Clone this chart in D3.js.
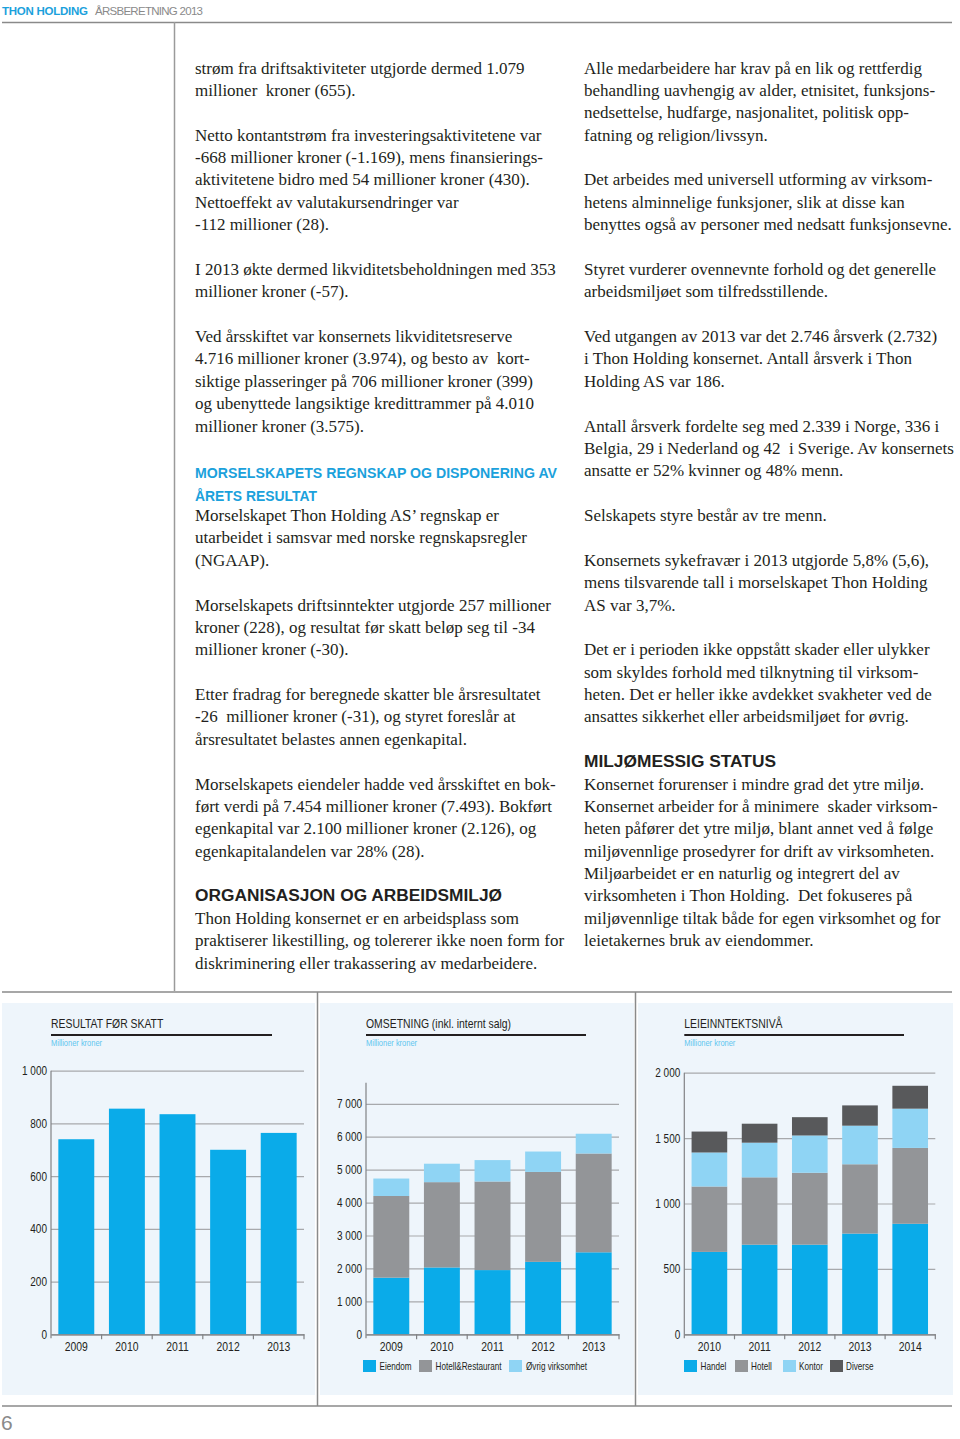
<!DOCTYPE html>
<html><head><meta charset="utf-8">
<script src="https://cdn.jsdelivr.net/npm/d3@7"></script>
<style>
body{margin:0;background:#fff}
svg{display:block}
.body{font-family:"Liberation Serif","Times New Roman",serif;font-size:17px;fill:#231f20;white-space:pre}
.hb{font-family:"Liberation Sans",Arial,sans-serif;font-weight:bold;font-size:14px;fill:#1ba1dc}
.hk{font-family:"Liberation Sans",Arial,sans-serif;font-weight:bold;font-size:16px;fill:#231f20}
.ch{font-family:"Liberation Sans Narrow","Liberation Sans",Arial,sans-serif}
</style>
</head><body><svg id="c" width="960" height="1439"></svg>
<script>
// ---------- DATA ----------
const years1 = ["2009","2010","2011","2012","2013"];
const resultatForSkatt = [740, 856, 835, 700, 764];
const ticks1 = [0, 200, 400, 600, 800, 1000];

const years2 = ["2009","2010","2011","2012","2013"];
const eiendom = [1720, 2030, 1950, 2200, 2490];
const hotellRestaurant = [2480, 2590, 2690, 2730, 3000];
const ovrigVirksomhet = [530, 560, 650, 620, 600];
const ticks2 = [0, 1000, 2000, 3000, 4000, 5000, 6000, 7000];
const series2 = ["Eiendom", "Hotell&Restaurant", "Øvrig virksomhet"];

const years3 = ["2010","2011","2012","2013","2014"];
const handel = [630, 685, 685, 770, 845];
const hotell = [500, 515, 550, 530, 580];
const kontor = [260, 265, 285, 295, 300];
const diverse = [160, 145, 140, 155, 175];
const ticks3 = [0, 500, 1000, 1500, 2000];
const series3 = ["Handel", "Hotell", "Kontor", "Diverse"];

const leftLines = [
"strøm fra driftsaktiviteter utgjorde dermed 1.079",
"millioner  kroner (655).",
"",
"Netto kontantstrøm fra investeringsaktivitetene var",
"-668 millioner kroner (-1.169), mens finansierings-",
"aktivitetene bidro med 54 millioner kroner (430).",
"Nettoeffekt av valutakursendringer var",
"-112 millioner (28).",
"",
"I 2013 økte dermed likviditetsbeholdningen med 353",
"millioner kroner (-57).",
"",
"Ved årsskiftet var konsernets likviditetsreserve",
"4.716 millioner kroner (3.974), og besto av  kort-",
"siktige plasseringer på 706 millioner kroner (399)",
"og ubenyttede langsiktige kredittrammer på 4.010",
"millioner kroner (3.575).",
"",
"#B362|MORSELSKAPETS REGNSKAP OG DISPONERING AV",
"#B122|ÅRETS RESULTAT",
"Morselskapet Thon Holding AS’ regnskap er",
"utarbeidet i samsvar med norske regnskapsregler",
"(NGAAP).",
"",
"Morselskapets driftsinntekter utgjorde 257 millioner",
"kroner (228), og resultat før skatt beløp seg til -34",
"millioner kroner (-30).",
"",
"Etter fradrag for beregnede skatter ble årsresultatet",
"-26  millioner kroner (-31), og styret foreslår at",
"årsresultatet belastes annen egenkapital.",
"",
"Morselskapets eiendeler hadde ved årsskiftet en bok-",
"ført verdi på 7.454 millioner kroner (7.493). Bokført",
"egenkapital var 2.100 millioner kroner (2.126), og",
"egenkapitalandelen var 28% (28).",
"",
"#K307|ORGANISASJON OG ARBEIDSMILJØ",
"Thon Holding konsernet er en arbeidsplass som",
"praktiserer likestilling, og tolererer ikke noen form for",
"diskriminering eller trakassering av medarbeidere."
];
const rightLines = [
"Alle medarbeidere har krav på en lik og rettferdig",
"behandling uavhengig av alder, etnisitet, funksjons-",
"nedsettelse, hudfarge, nasjonalitet, politisk opp-",
"fatning og religion/livssyn.",
"",
"Det arbeides med universell utforming av virksom-",
"hetens alminnelige funksjoner, slik at disse kan",
"benyttes også av personer med nedsatt funksjonsevne.",
"",
"Styret vurderer ovennevnte forhold og det generelle",
"arbeidsmiljøet som tilfredsstillende.",
"",
"Ved utgangen av 2013 var det 2.746 årsverk (2.732)",
"i Thon Holding konsernet. Antall årsverk i Thon",
"Holding AS var 186.",
"",
"Antall årsverk fordelte seg med 2.339 i Norge, 336 i",
"Belgia, 29 i Nederland og 42  i Sverige. Av konsernets",
"ansatte er 52% kvinner og 48% menn.",
"",
"Selskapets styre består av tre menn.",
"",
"Konsernets sykefravær i 2013 utgjorde 5,8% (5,6),",
"mens tilsvarende tall i morselskapet Thon Holding",
"AS var 3,7%.",
"",
"Det er i perioden ikke oppstått skader eller ulykker",
"som skyldes forhold med tilknytning til virksom-",
"heten. Det er heller ikke avdekket svakheter ved de",
"ansattes sikkerhet eller arbeidsmiljøet for øvrig.",
"",
"#K192|MILJØMESSIG STATUS",
"Konsernet forurenser i mindre grad det ytre miljø.",
"Konsernet arbeider for å minimere  skader virksom-",
"heten påfører det ytre miljø, blant annet ved å følge",
"miljøvennlige prosedyrer for drift av virksomheten.",
"Miljøarbeidet er en naturlig og integrert del av",
"virksomheten i Thon Holding.  Det fokuseres på",
"miljøvennlige tiltak både for egen virksomhet og for",
"leietakernes bruk av eiendommer."
];

// ---------- STYLE ----------
const C = {blue:"#0aabe9", gray:"#939598", light:"#8fd4f4", dark:"#58595b",
           grid:"#a7a9ac", axis:"#808285", bg:"#eef5fb", rule:"#8a8a8a"};

const svg = d3.select("#c");

function condense(sel, f){
  sel.each(function(){
    const w = this.getComputedTextLength();
    d3.select(this).attr("textLength", w*f).attr("lengthAdjust","spacingAndGlyphs");
  });
  return sel;
}

// header
svg.append("text").attr("x",2).attr("y",14.5)
  .attr("font-family","Liberation Sans, Arial, sans-serif").attr("font-weight","bold")
  .attr("font-size",11.5).attr("fill","#1ba1dc").attr("textLength",86).text("THON HOLDING");
svg.append("text").attr("x",95).attr("y",14.5)
  .attr("font-family","Liberation Sans, Arial, sans-serif")
  .attr("font-size",11.5).attr("fill","#8a8a8a").attr("textLength",108).text("ÅRSBERETNING 2013");
svg.append("line").attr("x1",2).attr("x2",952).attr("y1",22.5).attr("y2",22.5).attr("stroke",C.rule).attr("stroke-width",1.3);
svg.append("line").attr("x1",174.5).attr("x2",174.5).attr("y1",22).attr("y2",991).attr("stroke","#9a9a9a").attr("stroke-width",1.5);

// body text
function column(lines, x){
  lines.forEach((s,i)=>{
    if(!s) return;
    const yb = 73.5 + i*22.375;
    if(s[0]==="#"){
      const cls = s[1]==="B" ? "hb" : "hk";
      const len = +s.slice(2, s.indexOf("|"));
      svg.append("text").attr("class",cls).attr("x",x).attr("y",cls==="hb"?yb+2:yb)
        .attr("textLength",len).attr("lengthAdjust","spacingAndGlyphs").text(s.slice(s.indexOf("|")+1));
    } else {
      svg.append("text").attr("class","body").attr("x",x).attr("y",yb).text(s);
    }
  });
}
column(leftLines, 195);
column(rightLines, 584);

// bottom frame
svg.append("line").attr("x1",2).attr("x2",952).attr("y1",992).attr("y2",992).attr("stroke",C.rule).attr("stroke-width",1.5);
svg.append("line").attr("x1",2).attr("x2",952).attr("y1",1406).attr("y2",1406).attr("stroke",C.rule).attr("stroke-width",1.5);
[[2,315],[320,634],[638,953]].forEach(([a,b])=>{
  svg.append("rect").attr("x",a).attr("y",1003).attr("width",b-a).attr("height",392).attr("fill",C.bg);
});
[317.5,635.5].forEach(xx=>svg.append("line").attr("x1",xx).attr("x2",xx).attr("y1",992).attr("y2",1406).attr("stroke",C.rule).attr("stroke-width",1.5));

svg.append("text").attr("x",1).attr("y",1430).attr("font-family","Liberation Sans, Arial, sans-serif")
  .attr("font-size",21).attr("font-weight",300).attr("fill","#8a8a8a").text("6");

const fmt = v => d3.format(",")(v).replace(/,/g," ");
const NF = 0.83;

function panel(o){
  const g = svg.append("g");
  condense(g.append("text").attr("class","ch").attr("x",o.left).attr("y",1027.5).attr("font-size",13).attr("fill","#231f20").text(o.title), 0.8);
  g.append("line").attr("x1",o.left).attr("x2",o.ul).attr("y1",1035).attr("y2",1035).attr("stroke","#231f20").attr("stroke-width",2);
  condense(g.append("text").attr("class","ch").attr("x",o.left).attr("y",1046).attr("font-size",9).attr("fill","#5fc6ef").text("Millioner kroner"), NF);

  const x = d3.scaleBand().domain(o.cats).range([o.left,o.right]).paddingInner(0.29).paddingOuter(0.145);
  const y = d3.scaleLinear().domain([0,o.ymax]).range([1334.3,o.ytop]);

  const ya = g.append("g").attr("transform",`translate(${o.left},0)`)
    .call(d3.axisLeft(y).tickValues(o.ticks).tickSize(-(o.right-o.left)).tickPadding(4).tickFormat(fmt));
  ya.select(".domain").remove();
  ya.selectAll("line").attr("stroke",C.grid).attr("stroke-width",1.2);
  condense(ya.selectAll("text").attr("class","ch").attr("font-size",12.5).attr("fill","#231f20"), 0.8);
  g.append("line").attr("x1",o.left).attr("x2",o.left).attr("y1",y(o.ymax)).attr("y2",y(0)+4).attr("stroke",C.axis).attr("stroke-width",1.2);

  const rows = o.cats.map((c,i)=>{const r={cat:c}; o.keys.forEach((k,j)=>r[k]=o.values[j][i]); return r;});
  const stacked = d3.stack().keys(o.keys)(rows);
  g.append("g").selectAll("g").data(stacked).join("g").attr("fill",(d,i)=>o.colors[i])
    .selectAll("rect").data(d=>d).join("rect")
    .attr("x",d=>x(d.data.cat)).attr("width",x.bandwidth())
    .attr("y",d=>y(d[1])).attr("height",d=>y(d[0])-y(d[1]));

  const xa = g.append("g").attr("transform",`translate(0,${y(0)})`)
    .call(d3.axisBottom(x).tickSize(0).tickPadding(7));
  xa.select(".domain").attr("stroke",C.axis).attr("stroke-width",1.2);
  condense(xa.selectAll("text").attr("class","ch").attr("font-size",13).attr("fill","#231f20"), 0.8);
  g.append("g").selectAll("line").data(d3.range(1,o.cats.length+1)).join("line")
    .attr("x1",i=>o.left+i*x.step()).attr("x2",i=>o.left+i*x.step())
    .attr("y1",y(0)).attr("y2",y(0)+5).attr("stroke",C.axis).attr("stroke-width",1.2);

  if(o.legend){
    const lg = g.append("g").selectAll("g").data(o.legend).join("g")
      .attr("transform",d=>`translate(${d.x},1360)`);
    lg.append("rect").attr("width",13).attr("height",12).attr("fill",(d,i)=>o.colors[i]);
    condense(lg.append("text").attr("class","ch").attr("x",d=>d.tx).attr("y",10).attr("font-size",11).attr("fill","#231f20").text(d=>d.name), 0.74);
  }
}

panel({title:"RESULTAT FØR SKATT", left:51, right:304, ul:272, ytop:1070.7, ymax:1000, ticks:ticks1,
  cats:years1, keys:["v"], values:[resultatForSkatt], colors:[C.blue]});

panel({title:"OMSETNING (inkl. internt salg)", left:366, right:619, ul:586, ytop:1082.7, ymax:7640, ticks:ticks2,
  cats:years2, keys:series2, values:[eiendom,hotellRestaurant,ovrigVirksomhet], colors:[C.blue,C.gray,C.light],
  legend:[{name:series2[0],x:363,tx:16.5},{name:series2[1],x:419,tx:16.5},{name:series2[2],x:509,tx:17}]});

panel({title:"LEIEINNTEKTSNIVÅ", left:684.3, right:935.3, ul:904, ytop:1072.7, ymax:2000, ticks:ticks3,
  cats:years3, keys:series3, values:[handel,hotell,kontor,diverse], colors:[C.blue,C.gray,C.light,C.dark],
  legend:[{name:series3[0],x:684,tx:16.5},{name:series3[1],x:735,tx:16},{name:series3[2],x:783,tx:16},{name:series3[3],x:830,tx:16}]});
</script></body></html>
